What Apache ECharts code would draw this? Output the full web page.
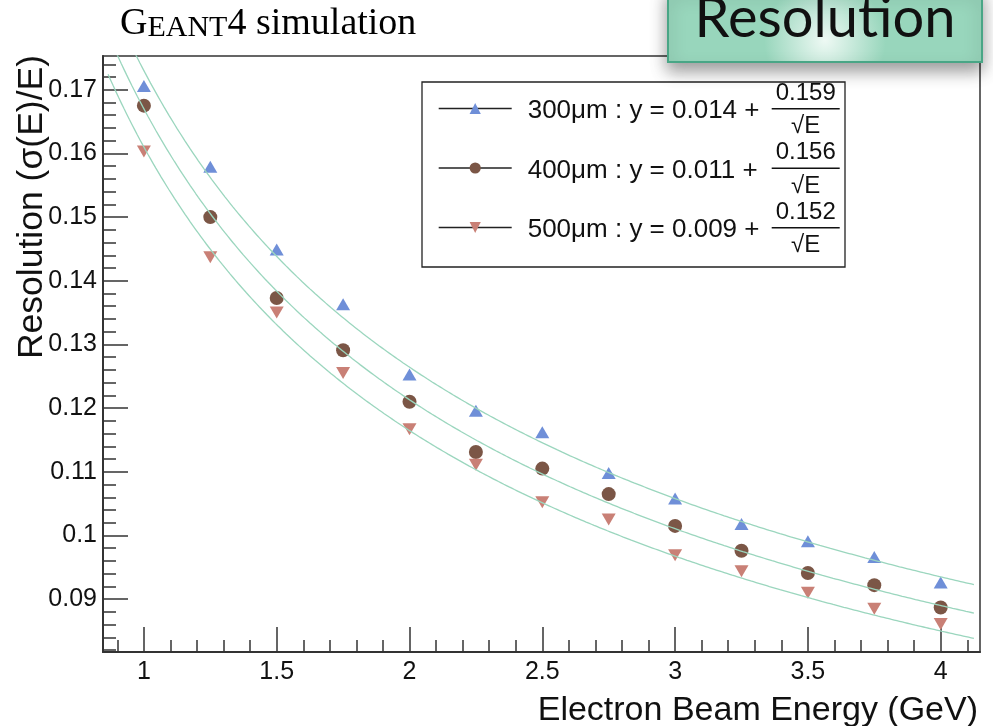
<!DOCTYPE html>
<html>
<head>
<meta charset="utf-8">
<script src="https://cdn.jsdelivr.net/npm/echarts@6/dist/echarts.min.js"></script>
<style>
  html, body { margin: 0; padding: 0; background: #ffffff; }
  #chart { width: 993px; height: 726px; }
</style>
</head>
<body>
<div id="chart"></div>
<script>
// Beam energies (GeV) and simulated resolution sigma(E)/E per sensor thickness
const energies = [1, 1.25, 1.5, 1.75, 2, 2.25, 2.5, 2.75, 3, 3.25, 3.5, 3.75, 4];
const res300 = [0.1706, 0.1579, 0.1449, 0.1363, 0.1253, 0.1196, 0.1162, 0.1098, 0.1058, 0.1018, 0.0991, 0.0966, 0.0926];
const res400 = [0.1675, 0.1500, 0.1373, 0.1291, 0.1210, 0.1131, 0.1105, 0.1065, 0.1015, 0.0976, 0.0941, 0.0922, 0.0887];
const res500 = [0.1603, 0.1437, 0.1350, 0.1255, 0.1167, 0.1111, 0.1052, 0.1025, 0.0969, 0.0944, 0.0910, 0.0885, 0.0861];
const seriesNames = ['300μm', '400μm', '500μm'];

// Fit parameters y = a + b / sqrt(E), as given in the legend
const fitConst = [0.014, 0.011, 0.009];
const fitSlope = [0.159, 0.156, 0.152];
const fitRange = [0.865, 4.13];

// Axis ticks
const xMajorTicks = [1, 1.5, 2, 2.5, 3, 3.5, 4];
const xMinorTicks = [0.9, 1.1, 1.2, 1.3, 1.4, 1.6, 1.7, 1.8, 1.9, 2.1, 2.2, 2.3, 2.4,
  2.6, 2.7, 2.8, 2.9, 3.1, 3.2, 3.3, 3.4, 3.6, 3.7, 3.8, 3.9, 4.1];
const yMajorTicks = [0.09, 0.10, 0.11, 0.12, 0.13, 0.14, 0.15, 0.16, 0.17];
const yMinorTicks = [0.082, 0.084, 0.086, 0.088, 0.092, 0.094, 0.096, 0.098,
  0.102, 0.104, 0.106, 0.108, 0.112, 0.114, 0.116, 0.118, 0.122, 0.124, 0.126, 0.128,
  0.132, 0.134, 0.136, 0.138, 0.142, 0.144, 0.146, 0.148, 0.152, 0.154, 0.156, 0.158,
  0.162, 0.164, 0.166, 0.168, 0.172, 0.174];
const xRange = [0.846, 4.148];
const yRange = [0.0817, 0.1753];

// ---- styling ----
const markerColors = ['#6f8fd8', '#7b5646', '#c98076'];
const markerSymbols = ['triangle', 'circle', 'path://M0,0L10,0L5,9Z'];
const markerSizes = [[14, 12], 14, [14, 12]];
const fitColor = '#9bd6be';
const axisColor = '#333333';
const textColor = '#111111';

function hasFont(family) {
  const ctx = document.createElement('canvas').getContext('2d');
  const probe = 'Electron Beam Energy';
  ctx.font = '40px monospace';
  const base = ctx.measureText(probe).width;
  ctx.font = '40px "' + family + '", monospace';
  return ctx.measureText(probe).width !== base;
}
const narrow = hasFont('Liberation Sans Narrow');
const xTitleSize = narrow ? 40 : 34;
const xTitleFamily = narrow ? 'Liberation Sans Narrow' : 'Liberation Sans';

const fmt = v => String(+Number(v).toFixed(2));

function fitCurve(i) {
  const pts = [];
  for (let e = fitRange[0]; e <= fitRange[1] + 1e-9; e += 0.01) {
    pts.push([e, fitConst[i] + fitSlope[i] / Math.sqrt(e)]);
  }
  return pts;
}

const dataSeries = [res300, res400, res500].map((vals, i) => ({
  name: seriesNames[i],
  type: 'line',
  data: energies.map((e, k) => [e, vals[k]]),
  symbol: markerSymbols[i],
  symbolSize: markerSizes[i],
  showSymbol: true,
  itemStyle: { color: markerColors[i], opacity: 1 },
  lineStyle: { width: 0, opacity: 0 },
  emphasis: { disabled: true },
  z: 3,
  silent: true
}));

const fitSeries = [0, 1, 2].map(i => ({
  name: seriesNames[i] + ' fit',
  type: 'line',
  data: fitCurve(i),
  showSymbol: false,
  symbol: 'none',
  clip: true,
  lineStyle: { color: fitColor, width: 1.3 },
  emphasis: { disabled: true },
  z: 4,
  silent: true
}));

// Stacked fraction: numerator line, main line carrying the fraction bar, denominator line
const legendRich = {
  numsp: { width: 255, lineHeight: 30 },
  num: { width: 68, align: 'center', fontSize: 24, lineHeight: 30, fontFamily: 'Liberation Sans', color: textColor },
  gap: { width: 11, lineHeight: 6 },
  main: { width: 244, fontSize: 26, lineHeight: 6, verticalAlign: 'middle', fontFamily: 'Liberation Sans', color: textColor },
  bar: { width: 68, height: 1.5, lineHeight: 6, verticalAlign: 'top', backgroundColor: '#111111' },
  densp: { width: 255, lineHeight: 25 },
  den: { width: 68, align: 'center', fontSize: 24, lineHeight: 25, fontFamily: 'Liberation Sans', color: textColor }
};

const option = {
  animation: false,
  backgroundColor: '#ffffff',
  grid: {
    left: 103, right: 13, top: 56, bottom: 74,
    show: true, borderColor: axisColor, borderWidth: 1.5,
    backgroundColor: 'transparent',
    containLabel: false, outerBoundsMode: 'none'
  },
  legend: {
    data: seriesNames,
    orient: 'vertical',
    left: 438, top: 80,
    padding: 0,
    itemGap: 0,
    itemWidth: 73, itemHeight: 14,
    selectedMode: false,
    lineStyle: { color: '#222222', width: 1.4, opacity: 1 },
    textStyle: { fontFamily: 'Liberation Sans', fontSize: 26, color: textColor, rich: legendRich },
    formatter: name => {
      const i = seriesNames.indexOf(name);
      return '{numsp|}{num|' + fitSlope[i].toFixed(3) + '}\n' +
        '{gap|}{main|' + name + ' : y = ' + fitConst[i].toFixed(3) + ' +}{bar|}\n' +
        '{densp|}{den|√E}';
    },
    z: 6
  },
  xAxis: [
    {
      type: 'value', min: xRange[0], max: xRange[1], gridIndex: 0, position: 'bottom',
      axisLine: { show: true, onZero: false, lineStyle: { color: axisColor, width: 2 } },
      axisTick: { show: true, inside: true, length: 25, customValues: xMajorTicks, lineStyle: { color: axisColor, width: 1.5 } },
      axisLabel: { show: true, customValues: xMajorTicks, margin: 8, fontSize: 25, color: textColor, fontFamily: 'Liberation Sans', formatter: fmt },
      splitLine: { show: false },
      name: 'Electron Beam Energy (GeV)',
      nameLocation: 'end', nameGap: -2, nameMoveOverlap: false,
      nameTextStyle: {
        fontFamily: xTitleFamily, fontSize: xTitleSize, color: textColor,
        align: 'right', verticalAlign: 'top', lineHeight: xTitleSize,
        padding: [723 - 652 - Math.round(0.3465 * xTitleSize) - xTitleSize / 2, 0, 0, 0]
      }
    },
    {
      type: 'value', min: xRange[0], max: xRange[1], gridIndex: 0, position: 'bottom',
      axisLine: { show: false },
      axisTick: { show: true, inside: true, length: 12, customValues: xMinorTicks, lineStyle: { color: axisColor, width: 1.5 } },
      axisLabel: { show: false },
      splitLine: { show: false }
    }
  ],
  yAxis: [
    {
      type: 'value', min: yRange[0], max: yRange[1], gridIndex: 0, position: 'left',
      axisLine: { show: true, onZero: false, lineStyle: { color: axisColor, width: 2 } },
      axisTick: { show: true, inside: true, length: 25, customValues: yMajorTicks, lineStyle: { color: axisColor, width: 1.5 } },
      axisLabel: { show: true, customValues: yMajorTicks, margin: 6, fontSize: 25, color: textColor, fontFamily: 'Liberation Sans', formatter: fmt },
      splitLine: { show: false },
      name: 'Resolution (σ(E)/E)',
      nameLocation: 'end', nameGap: 1, nameRotate: 90, nameMoveOverlap: false,
      nameTextStyle: {
        fontFamily: 'Liberation Sans', fontSize: 35.5, color: textColor,
        align: 'right', verticalAlign: 'bottom', lineHeight: 35.5,
        padding: [0, 0, 53, 0]
      }
    },
    {
      type: 'value', min: yRange[0], max: yRange[1], gridIndex: 0, position: 'left',
      axisLine: { show: false },
      axisTick: { show: true, inside: true, length: 13, customValues: yMinorTicks, lineStyle: { color: axisColor, width: 1.5 } },
      axisLabel: { show: false },
      splitLine: { show: false }
    }
  ],
  graphic: [
    {
      // legend frame
      type: 'rect', z: 3,
      shape: { x: 422, y: 82, width: 423, height: 185 },
      style: { fill: '#ffffff', stroke: '#222222', lineWidth: 1.3 }
    },
    {
      type: 'text', left: 120, top: 5, z: 10,
      style: {
        text: '{g|G}{s|EANT}{g|4 simulation}',
        rich: {
          g: { fontFamily: 'Liberation Serif', fontSize: 38, color: '#1a1a1a', verticalAlign: 'bottom', lineHeight: 38 },
          s: { fontFamily: 'Liberation Serif', fontSize: 30, color: '#1a1a1a', verticalAlign: 'bottom', lineHeight: 32.6 }
        }
      }
    },
    {
      type: 'rect', z: 20,
      shape: { x: 668, y: -12, width: 314, height: 74 },
      style: {
        fill: {
          type: 'radial', x: 0.5, y: 0.7, r: 0.8,
          colorStops: [
            { offset: 0, color: '#eef9f4' },
            { offset: 1, color: '#98d6bc' }
          ]
        },
        stroke: '#49a686', lineWidth: 2,
        shadowBlur: 16, shadowOffsetX: 0, shadowOffsetY: 8, shadowColor: 'rgba(0,0,0,0.4)'
      }
    },
    {
      type: 'text', z: 21,
      x: 825, y: 19,
      style: {
        text: 'Resolution',
        fontFamily: 'Lato', fontSize: 56, fill: '#111111',
        align: 'center', verticalAlign: 'middle'
      }
    }
  ],
  series: [...dataSeries, ...fitSeries]
};

const chart = echarts.init(document.getElementById('chart'), null, { renderer: 'canvas' });
chart.setOption(option);
</script>
</body>
</html>
